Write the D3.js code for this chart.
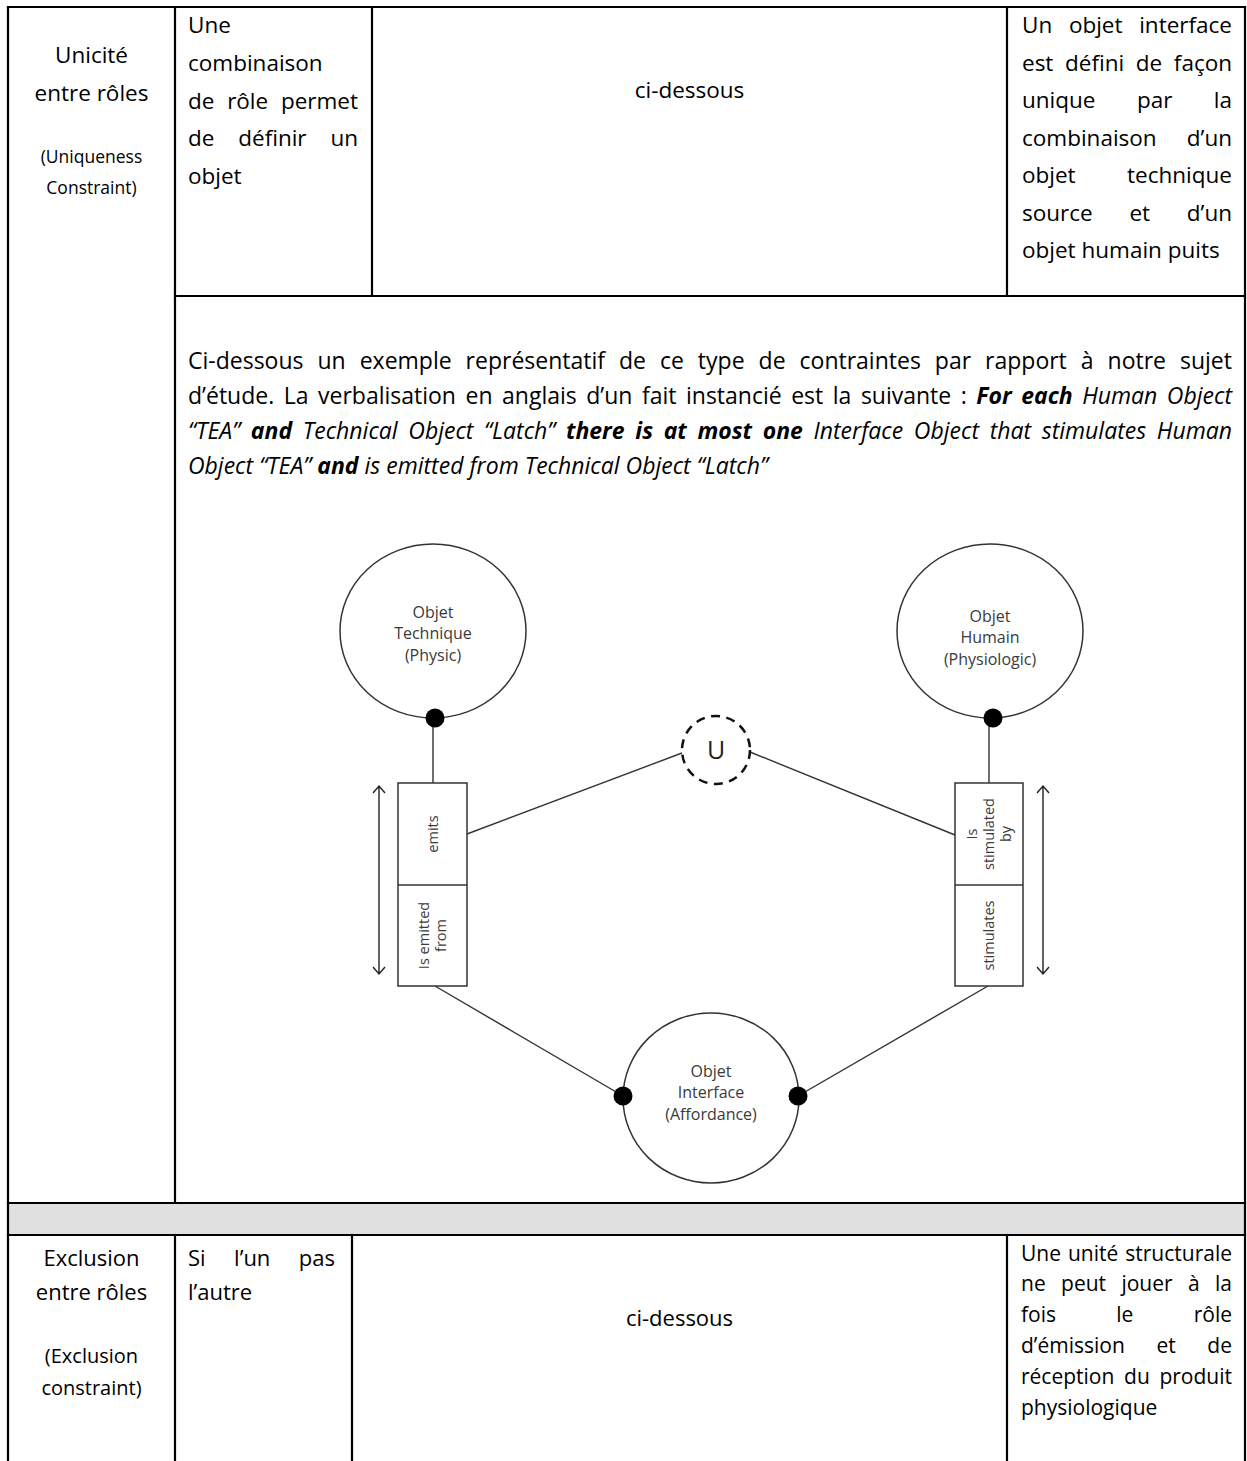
<!DOCTYPE html>
<html>
<head>
<meta charset="utf-8">
<script src="https://cdn.jsdelivr.net/npm/d3@7"></script>
<style>
  html, body { margin: 0; padding: 0; background: #fff; }
  svg { display: block; }
</style>
</head>
<body>
<div id="chart"></div>
<script>
// ---------------- DATA ----------------
const row1Title = ["Unicité", "entre rôles"];
const row1Subtitle = ["(Uniqueness", "Constraint)"];
const row1Definition = ["Une", "combinaison", "de rôle permet", "de définir un", "objet"];
const row1Example = "ci-dessous";
const row1Explanation = ["Un objet interface", "est défini de façon", "unique par la", "combinaison d’un", "objet technique", "source et d’un", "objet humain puits"];

// paragraph: each line is a list of [style, text]; n = normal, i = italic, bi = bold italic
const paragraphLines = [
  [["n", "Ci-dessous un exemple représentatif de ce type de contraintes par rapport à notre sujet"]],
  [["n", "d’étude. La verbalisation en anglais d’un fait instancié est la suivante :"], ["bi", "For each"], ["i", "Human Object"]],
  [["i", "“TEA”"], ["bi", "and"], ["i", "Technical Object “Latch”"], ["bi", "there is at most one"], ["i", "Interface Object that stimulates Human"]],
  [["i", "Object “TEA”"], ["bi", "and"], ["i", "is emitted from Technical Object “Latch”"]]
];

const entityLabels = {
  technique: ["Objet", "Technique", "(Physic)"],
  humain: ["Objet", "Humain", "(Physiologic)"],
  interface: ["Objet", "Interface", "(Affordance)"]
};
const roleLabels = {
  emits: ["emits"],
  emittedFrom: ["Is emitted", "from"],
  stimulatedBy: ["Is", "stimulated", "by"],
  stimulates: ["stimulates"]
};
const uniquenessLabel = "U";

const row3Title = ["Exclusion", "entre rôles"];
const row3Subtitle = ["(Exclusion", "constraint)"];
const row3Definition = ["Si l’un pas", "l’autre"];
const row3Example = "ci-dessous";
const row3Explanation = ["Une unité structurale", "ne peut jouer à la", "fois le rôle", "d’émission et de", "réception du produit", "physiologique"];

// ---------------- RENDER ----------------
const W = 1247, H = 1461;
const FONT = "'Open Sans', 'Noto Sans', sans-serif";
const svg = d3.select("#chart").append("svg").attr("width", W).attr("height", H);
svg.append("rect").attr("width", W).attr("height", H).attr("fill", "#fff");

const measurer = svg.append("text").attr("visibility", "hidden").attr("font-family", FONT);
function measure(word, style, size) {
  measurer.attr("font-size", size)
    .attr("font-style", style.includes("i") ? "italic" : "normal")
    .attr("font-weight", style.includes("b") ? "bold" : "normal")
    .text(word);
  return measurer.node().getComputedTextLength();
}

// Draw a line of words between x0 and x1, justified or left aligned
function drawLine(g, segs, x0, x1, yc, size, justify, color) {
  const words = [];
  segs.forEach(([s, t]) => t.split(" ").filter(w => w.length).forEach(w => words.push({ w, s })));
  words.forEach(d => d.len = measure(d.w, d.s, size));
  const sum = d3.sum(words, d => d.len);
  const spaceW = measure("a a", "n", size) - measure("aa", "n", size);
  let gap = spaceW, scale = 1;
  if (justify && words.length > 1) {
    gap = (x1 - x0 - sum) / (words.length - 1);
    if (gap < spaceW * 0.75) {
      gap = spaceW * 0.75;
      scale = (x1 - x0 - gap * (words.length - 1)) / sum;
    }
  }
  const t = g.append("text")
    .attr("font-family", FONT).attr("font-size", size)
    .attr("fill", color || "#000")
    .attr("y", yc).attr("dy", "0.36em");
  let x = x0;
  words.forEach(d => {
    const ts = t.append("tspan")
      .attr("x", x)
      .attr("font-style", d.s.includes("i") ? "italic" : "normal")
      .attr("font-weight", d.s.includes("b") ? "bold" : "normal")
      .text(d.w);
    if (scale < 1) ts.attr("textLength", d.len * scale).attr("lengthAdjust", "spacingAndGlyphs");
    x += d.len * scale + gap;
  });
}

function drawJustifiedBlock(g, lines, x0, x1, yScale, size) {
  lines.forEach((line, i) => {
    const segs = typeof line === "string" ? [["n", line]] : line;
    const last = i === lines.length - 1;
    drawLine(g, segs, x0, x1, yScale(i), size, !last);
  });
}

function drawCentered(g, lines, cx, yScale, size, color) {
  g.selectAll(null).data(lines).enter().append("text")
    .attr("x", cx).attr("y", (d, i) => yScale(i)).attr("dy", "0.36em")
    .attr("text-anchor", "middle")
    .attr("font-family", FONT).attr("font-size", size)
    .attr("fill", color || "#000")
    .text(d => d);
}

const lineIdx = (start, step) => d3.scaleLinear().domain([0, 1]).range([start, start + step]);

// ---- table geometry ----
const X = { L: 8, c1: 175, c2: 372, c2b: 352, c3: 1007, R: 1245 };
const Y = { T: 7, r1: 296, r2: 1203, g: 1235, B: 1461 };

const table = svg.append("g");
// gray separator row
table.append("rect").attr("x", X.L).attr("y", Y.r2).attr("width", X.R - X.L).attr("height", Y.g - Y.r2).attr("fill", "#e0e0e0");

const gridLines = [
  [X.L, Y.T, X.R, Y.T],
  [X.L, Y.T, X.L, Y.B],
  [X.R, Y.T, X.R, Y.B],
  [X.c1, Y.T, X.c1, Y.r2],
  [X.c1, Y.g, X.c1, Y.B],
  [X.c2, Y.T, X.c2, Y.r1],
  [X.c3, Y.T, X.c3, Y.r1],
  [X.c1, Y.r1, X.R, Y.r1],
  [X.L, Y.r2, X.R, Y.r2],
  [X.L, Y.g, X.R, Y.g],
  [X.c2b, Y.g, X.c2b, Y.B],
  [X.c3, Y.g, X.c3, Y.B]
];
table.selectAll("line.grid").data(gridLines).enter().append("line")
  .attr("x1", d => d[0]).attr("y1", d => d[1]).attr("x2", d => d[2]).attr("y2", d => d[3])
  .attr("stroke", "#000").attr("stroke-width", 2.2).attr("stroke-linecap", "square");

// ---- row 1 text ----
const text = svg.append("g");
drawCentered(text, row1Title, (X.L + X.c1) / 2, lineIdx(55, 38), 22.5);
drawCentered(text, row1Subtitle, (X.L + X.c1) / 2, lineIdx(157, 31), 17.5);
drawJustifiedBlock(text, row1Definition, 188, 358, lineIdx(25, 37.7), 22.5);
drawCentered(text, [row1Example], (X.c2 + X.c3) / 2, lineIdx(90, 0), 22.5);
drawJustifiedBlock(text, row1Explanation, 1022, 1232, lineIdx(25, 37.5), 22.5);

// ---- paragraph ----
drawJustifiedBlock(text, paragraphLines, 188, 1232, lineIdx(361, 35), 23);

// ---- row 3 text ----
drawCentered(text, row3Title, (X.L + X.c1) / 2, lineIdx(1258, 34), 22);
drawCentered(text, row3Subtitle, (X.L + X.c1) / 2, lineIdx(1356, 32), 20);
drawJustifiedBlock(text, row3Definition, 188, 335, lineIdx(1258, 34), 22);
drawCentered(text, [row3Example], (X.c2b + X.c3) / 2, lineIdx(1318, 0), 22);
drawJustifiedBlock(text, row3Explanation, 1021, 1232, lineIdx(1253, 30.8), 21);

// ---------------- DIAGRAM ----------------
const dg = svg.append("g");
const STROKE = "#333", DTXT = "#3a3a3a";

const ent = {
  technique: { cx: 433, cy: 631, rx: 93, ry: 87, dot: [435, 718] },
  humain: { cx: 990, cy: 631, rx: 93, ry: 87, dot: [993, 718] },
  interface: { cx: 711, cy: 1098, rx: 88, ry: 85 }
};
const boxL = { x0: 398, x1: 467, y0: 783, ym: 885, y1: 986 };
const boxR = { x0: 955, x1: 1023, y0: 783, ym: 885, y1: 986 };
const uC = { cx: 716, cy: 750, r: 34 };
const dotL = [623, 1096], dotR = [798, 1096];

// connecting lines
const conns = [
  [433, 718, 433, boxL.y0],
  [989, 718, 989, boxR.y0],
  [boxL.x1, 834, uC.cx - uC.r, 753],
  [uC.cx + uC.r, 752, boxR.x0, 835],
  [435, boxL.y1, dotL[0], dotL[1]],
  [988, boxR.y1, dotR[0], dotR[1]]
];
dg.selectAll("line.conn").data(conns).enter().append("line")
  .attr("x1", d => d[0]).attr("y1", d => d[1]).attr("x2", d => d[2]).attr("y2", d => d[3])
  .attr("stroke", STROKE).attr("stroke-width", 1.4);

// entity ellipses
Object.entries(ent).forEach(([k, e]) => {
  dg.append("ellipse").attr("cx", e.cx).attr("cy", e.cy).attr("rx", e.rx).attr("ry", e.ry)
    .attr("fill", "#fff").attr("stroke", STROKE).attr("stroke-width", 1.5);
  const y0 = k === "technique" ? e.cy - 19 : (k === "humain" ? e.cy - 15 : e.cy - 27);
  drawCentered(dg, entityLabels[k], e.cx, lineIdx(y0, 21.5), 16, DTXT);
});

// dots
const dots = [ent.technique.dot, ent.humain.dot, dotL, dotR];
dg.selectAll("circle.dot").data(dots).enter().append("circle")
  .attr("cx", d => d[0]).attr("cy", d => d[1]).attr("r", 9.5).attr("fill", "#000");

// uniqueness dashed circle
dg.append("circle").attr("cx", uC.cx).attr("cy", uC.cy).attr("r", uC.r)
  .attr("fill", "#fff").attr("stroke", "#111").attr("stroke-width", 2.5)
  .attr("stroke-dasharray", "9,6.5");
dg.append("text").attr("x", uC.cx).attr("y", uC.cy).attr("dy", "0.36em")
  .attr("text-anchor", "middle").attr("font-family", FONT).attr("font-size", 25)
  .attr("fill", "#222").text(uniquenessLabel);

// role boxes
[boxL, boxR].forEach(b => {
  dg.append("rect").attr("x", b.x0).attr("y", b.y0).attr("width", b.x1 - b.x0).attr("height", b.y1 - b.y0)
    .attr("fill", "#fff").attr("stroke", STROKE).attr("stroke-width", 1.5);
  dg.append("line").attr("x1", b.x0).attr("x2", b.x1).attr("y1", b.ym).attr("y2", b.ym)
    .attr("stroke", STROKE).attr("stroke-width", 1.5);
});

function rotatedLabel(lines, cx, cy) {
  const g = dg.append("g").attr("transform", `translate(${cx},${cy}) rotate(-90)`);
  const step = 17;
  const off = -(lines.length - 1) * step / 2;
  g.selectAll(null).data(lines).enter().append("text")
    .attr("x", 0).attr("y", (d, i) => off + i * step).attr("dy", "0.36em")
    .attr("text-anchor", "middle").attr("font-family", FONT).attr("font-size", 14.5)
    .attr("fill", DTXT).text(d => d);
}
rotatedLabel(roleLabels.emits, (boxL.x0 + boxL.x1) / 2, (boxL.y0 + boxL.ym) / 2);
rotatedLabel(roleLabels.emittedFrom, (boxL.x0 + boxL.x1) / 2, (boxL.ym + boxL.y1) / 2);
rotatedLabel(roleLabels.stimulatedBy, (boxR.x0 + boxR.x1) / 2, (boxR.y0 + boxR.ym) / 2);
rotatedLabel(roleLabels.stimulates, (boxR.x0 + boxR.x1) / 2, (boxR.ym + boxR.y1) / 2);

// double-headed arrows
function doubleArrow(x, y0, y1) {
  const h = 7, w = 6;
  dg.append("path")
    .attr("d", `M${x},${y0} L${x},${y1} M${x - w},${y0 + h} L${x},${y0} L${x + w},${y0 + h} M${x - w},${y1 - h} L${x},${y1} L${x + w},${y1 - h}`)
    .attr("fill", "none").attr("stroke", "#222").attr("stroke-width", 1.4);
}
doubleArrow(379, 786, 974);
doubleArrow(1043, 786, 974);
</script>
</body>
</html>
